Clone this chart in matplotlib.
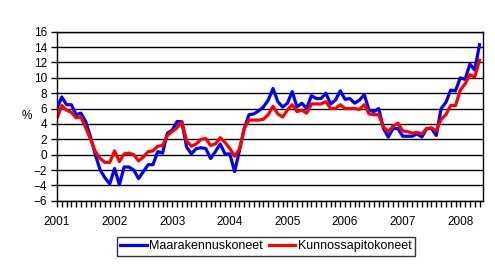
import numpy as np
import matplotlib
matplotlib.use("Agg")
import matplotlib.pyplot as plt
from matplotlib.ticker import MultipleLocator

plt.rcParams["font.family"] = ["Liberation Sans", "DejaVu Sans"]

# monthly year-on-year change (%), Jan 2001 .. May 2008
years = ["2001", "2002", "2003", "2004", "2005", "2006", "2007", "2008"]

maarakennus = [
    6.0, 7.5, 6.5, 6.5, 5.2, 5.4, 4.3, 2.3, 0.0, -2.0, -3.0, -3.8,
    -1.8, -3.9, -1.6, -1.6, -2.0, -3.1, -2.2, -1.3, -1.3, 0.4, 0.2, 2.8,
    3.2, 4.3, 4.3, 1.0, 0.1, 0.8, 0.9, 0.8, -0.5, 0.4, 1.4, 0.1,
    0.1, -2.2, 0.5, 3.4, 5.2, 5.3, 5.7, 6.2, 7.1, 8.6, 6.9, 6.2,
    6.7, 8.2, 6.2, 6.7, 6.0, 7.7, 7.3, 7.3, 8.0, 6.6, 7.1, 8.3,
    7.2, 7.3, 6.7, 7.1, 7.8, 5.8, 5.6, 6.0, 3.4, 2.3, 3.4, 3.4,
    2.4, 2.4, 2.4, 2.7, 2.3, 3.4, 3.4, 2.5, 6.0, 6.8, 8.4, 8.3,
    10.0, 9.8, 11.8, 11.0, 14.3,
]

kunnossapito = [
    4.7, 6.4, 5.8, 5.5, 4.8, 4.9, 3.5, 2.0, 0.4, -0.5, -1.0, -1.0,
    0.5, -0.9, 0.1, 0.2, 0.0, -0.8, -0.3, 0.4, 0.5, 1.1, 1.2, 2.5,
    3.0, 3.5, 4.3, 1.8, 1.1, 1.4, 2.0, 2.1, 1.2, 1.4, 2.2, 1.6,
    0.8, -0.2, 0.7, 3.4, 4.5, 4.5, 4.5, 4.6, 5.2, 6.3, 5.3, 4.9,
    5.8, 6.5, 5.6, 5.8, 5.4, 6.6, 6.6, 6.6, 6.9, 6.0, 6.0, 6.5,
    6.0, 6.0, 6.0, 5.9, 6.5, 5.3, 5.2, 5.2, 3.6, 3.0, 3.7, 4.1,
    3.1, 3.0, 2.8, 2.9, 2.7, 3.4, 3.5, 3.1, 4.6, 5.2, 6.4, 6.4,
    8.4, 9.2, 10.4, 10.1, 12.3,
]

x = np.arange(len(maarakennus))

fig = plt.figure(figsize=(4.95, 2.66), dpi=100)
ax = fig.add_axes([0.115, 0.245, 0.861, 0.636])

ax.yaxis.set_major_locator(MultipleLocator(2))
ax.set_ylim(-6, 16)
ax.grid(axis="y", color="black", linewidth=1)
ax.set_axisbelow(True)

ax.plot(x, maarakennus, color="#0000ff", linewidth=2.3, label="Maarakennuskoneet")
ax.plot(x, kunnossapito, color="#ff0000", linewidth=2.3, label="Kunnossapitokoneet")

ax.set_xlim(0, len(x) - 0.25)
ax.set_xticks(np.arange(0, len(x), 12))
ax.set_xticklabels(years)
ax.set_xticks(x, minor=True)
ax.tick_params(axis="x", which="both", direction="out", length=4, width=1,
               labelsize=8.5, pad=7)
ax.tick_params(axis="y", direction="out", length=4, width=1, labelsize=8.5, pad=3)

for s in ax.spines.values():
    s.set_color("black")
    s.set_linewidth(1)

fig.text(0.055, 0.565, "%", fontsize=8.5, ha="center", va="center")

leg = ax.legend(loc="center", bbox_to_anchor=(0.5375, 0.0735), bbox_transform=fig.transFigure,
                ncol=2, frameon=True, fancybox=False, fontsize=9, handlelength=2.1,
                handletextpad=0.2, columnspacing=0.5, borderpad=0.3, borderaxespad=0)
leg.get_frame().set_edgecolor("black")
leg.get_frame().set_linewidth(1)

fig.savefig("out.png", dpi=100)
